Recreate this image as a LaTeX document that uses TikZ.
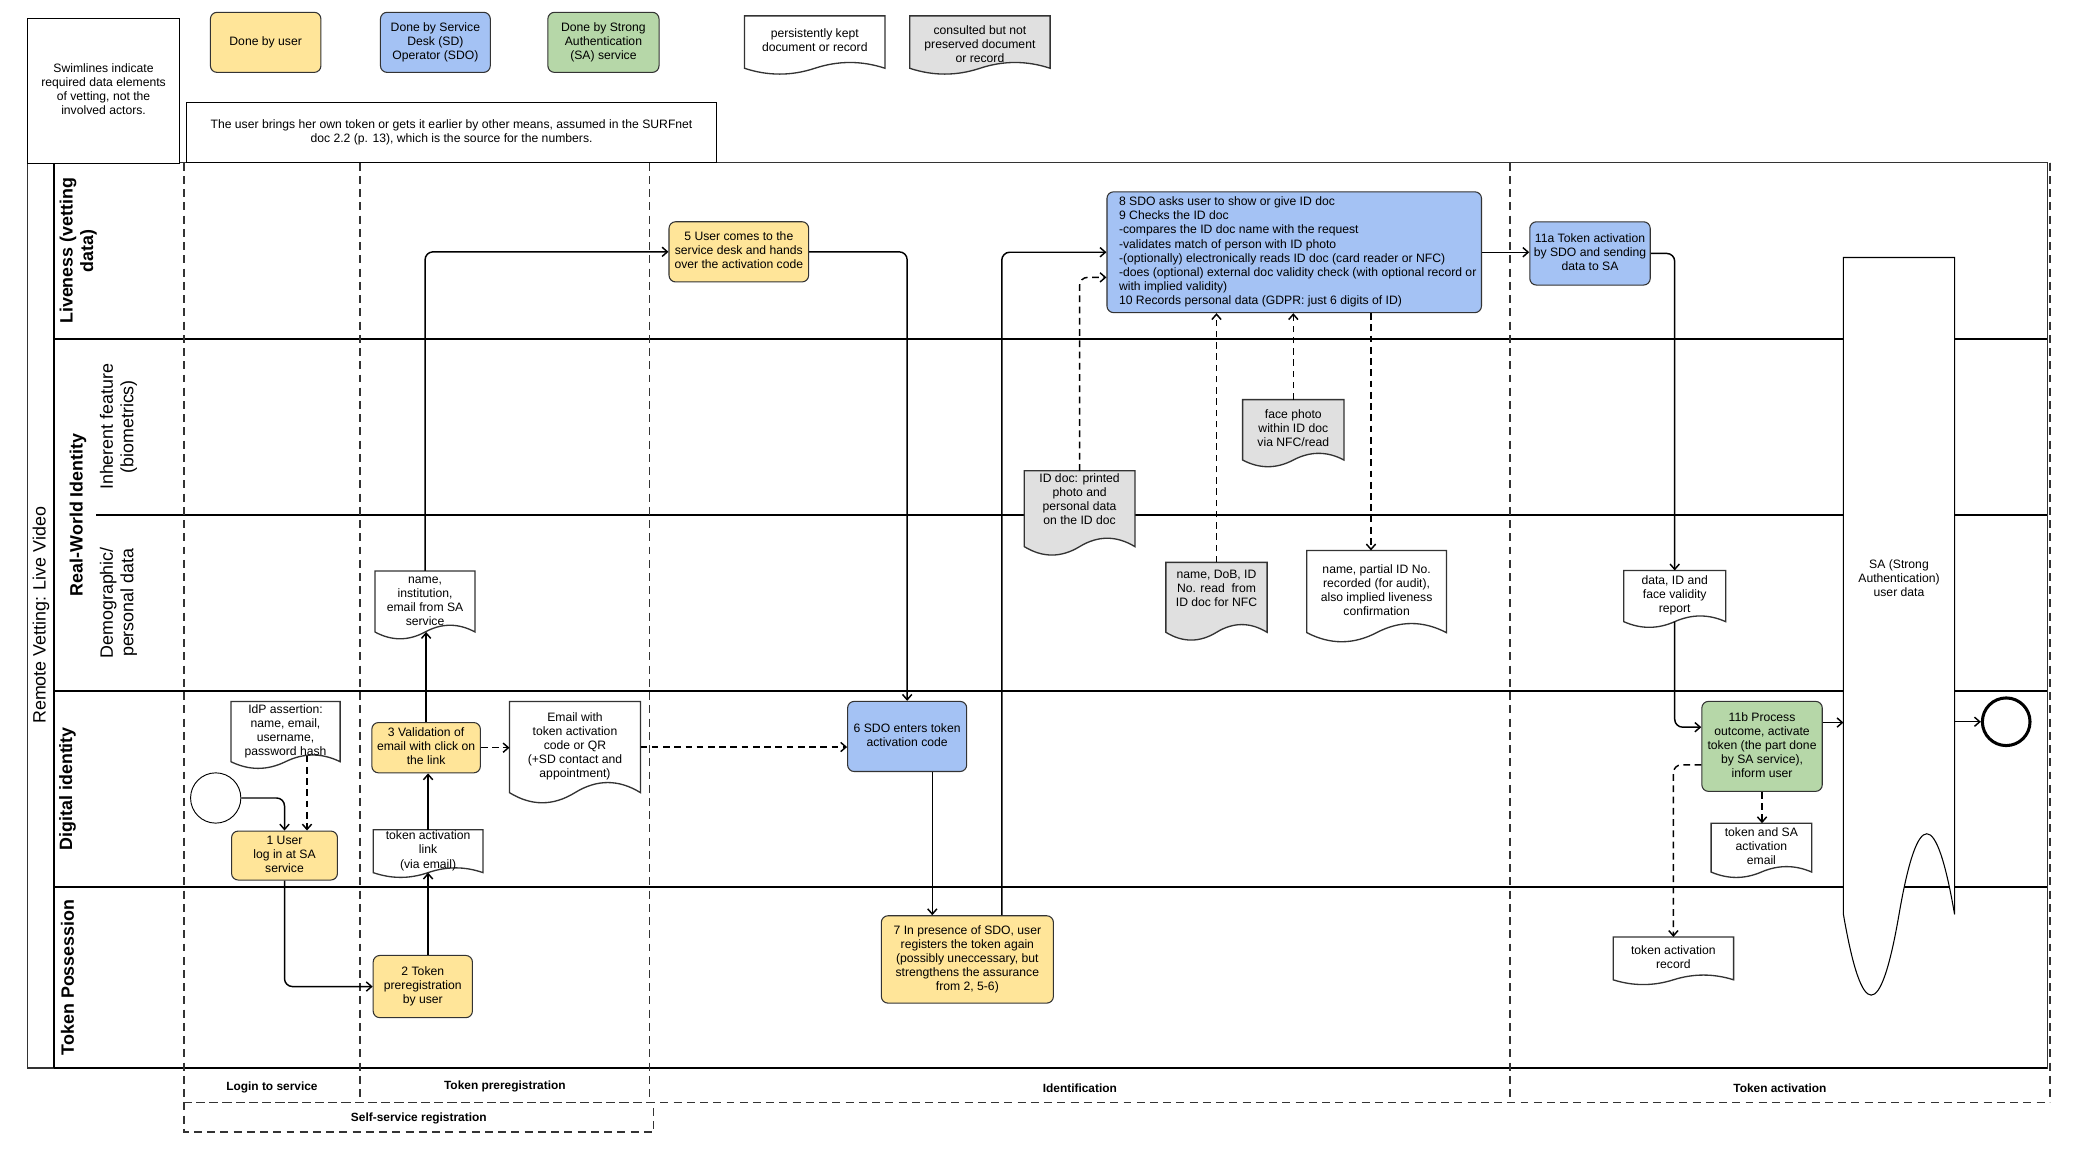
\documentclass[tikz,border=0pt]{standalone}
\usepackage{fontspec}
\setmainfont{Liberation Sans}
\usetikzlibrary{arrows.meta,calc}
\definecolor{useryellow}{HTML}{FFE599}
\definecolor{sdoblue}{HTML}{A4C2F4}
\definecolor{sagreen}{HTML}{B6D7A8}
\definecolor{docgrey}{HTML}{E0E0E0}
\definecolor{lanegrey}{HTML}{333333}
\newcommand{\lanefont}{\fontsize{13.5}{15.5}\selectfont}
\newcommand{\procnode}[6]{
	\node [draw=lanegrey, fill=#5, rounded corners=5pt, line width=0.8pt, minimum width=#3, minimum height=#4] (#1) at (#2) {};
	\node (#1txt) at (#2) {\begin{tabular}{c}#6\end{tabular}};}
\newcommand{\docnode}[7][0]{
	\begin{scope}[shift={(#3)}]
		\draw [draw=lanegrey, fill=#6, line width=1pt] ({-#4/2},{-0.45*#5}) -- ({#4/2},{-0.45*#5}) -- ({#4/2},{0.45*#5})
			.. controls ({#4/3},{0.317*#5}) and ({#4/6},{0.317*#5}) .. (0,{0.45*#5})
			.. controls ({-#4/6},{0.583*#5}) and ({-#4/3},{0.583*#5}) .. ({-#4/2},{0.45*#5}) -- cycle;
	\end{scope}
	\node [minimum width=#4, minimum height=0.9*#5, inner sep=0pt, outer sep=0pt] (#2) at (#3) {};
	\node [yshift=#1] (#2txt) at (#3) {\begin{tabular}{c}#7\end{tabular}};}

\begin{document}
\begin{tikzpicture}[x=1pt, y=-1pt, >={Straight Barb[length=4pt,width=7pt]},
	font=\fontsize{9.2}{10.6}\selectfont,
	flow/.style={->, line width=1.1pt, rounded corners=6pt},
	dataflow/.style={flow, dash pattern=on 5pt off 3.5pt},
	phase/.style={draw=lanegrey, line width=1pt, dash pattern=on 6pt off 4pt},
	lane/.style={line width=1.6pt},
	lanetitle/.style={rotate=90, font=\lanefont\bfseries},
	phasetitle/.style={font=\fontsize{9}{10.6}\selectfont\bfseries}]
	\useasboundingbox (0,0) rectangle (1568,870.5);

	% pool and lanes
	\draw [line width=1pt, draw=lanegrey] (21,123) rectangle (1547,807);
	\draw [lane] (40.5,123) -- (40.5,807);
	\draw [lane] (40.5,256) -- (1547,256);
	\draw [lane] (72.6,389) -- (1547,389);
	\draw [lane] (40.5,522) -- (1547,522);
	\draw [lane] (40.5,670) -- (1547,670);
	\draw [lane] (40.5,807) -- (1547,807);
	\node [rotate=90, font=\lanefont] (poolTitle) at (31,465) {Remote Vetting: Live Video};
	\node [lanetitle] (laneLive) at (59.5,189.5) {\begin{tabular}{c}Liveness (vetting\\data)\end{tabular}};
	\node [lanetitle] (laneReal) at (59,389) {Real-World Identity};
	\node [rotate=90, font=\lanefont] (laneInherent) at (90,322.5) {\begin{tabular}{c}Inherent feature\\(biometrics)\end{tabular}};
	\node [rotate=90, font=\lanefont] (laneDemo) at (90,455.5) {\begin{tabular}{c}Demographic/\\personal data\end{tabular}};
	\node [lanetitle] (laneDigital) at (51,596) {Digital identity};
	\node [lanetitle] (laneToken) at (51,738.5) {Token Possession};

	% phases
	\foreach \x in {139,272,491,1141,1549}
		\draw [phase] (\x,123) -- (\x,833);
	\draw [phase] (139,123) -- (1549,123);
	\draw [phase] (139,833) -- (1549,833);
	\draw [phase] (139,833) rectangle (494,855.5);
	\node [phasetitle] (phLogin) at (205.5,822) {Login to service};
	\node [phasetitle] (phPrereg) at (381.5,821) {Token preregistration};
	\node [phasetitle] (phIdent) at (816,822) {Identification};
	\node [phasetitle] (phActiv) at (1345,822) {Token activation};
	\node [phasetitle] (phSelf) at (316.5,845) {Self-service registration};

	% notes and legend
	\node [draw, fill=white, line width=0.8pt, minimum width=114.5, minimum height=109.6] (swimNote) at (78.25,68.7)
		{\begin{tabular}{c}Swimlines indicate\\required data elements\\of vetting, not the\\involved actors.\end{tabular}};
	\node [draw, fill=white, line width=0.8pt, minimum width=400.4, minimum height=45.4] (tokenNote) at (341.2,100)
		{\begin{tabular}{c}The user brings her own token or gets it earlier by other means, assumed in the SURFnet\\doc 2.2 (p. 13), which is the source for the numbers.\end{tabular}};
	\procnode{legUser}{200.75,32}{83.5}{45.4}{useryellow}{Done by user}
	\procnode{legSDO}{329,32}{83}{45.4}{sdoblue}{Done by Service\\Desk (SD)\\Operator (SDO)}
	\procnode{legSA}{456,32}{84}{45.4}{sagreen}{Done by Strong\\Authentication\\(SA) service}
	\docnode{legKept}{615.7,31.8}{106.2}{44}{white}{persistently kept\\document or record}
	\docnode[-3]{legCons}{740.5,31.8}{106.1}{44}{docgrey}{consulted but not\\preserved document\\or record}

	% steps
	\node [draw, circle, minimum size=38, inner sep=0pt, line width=0.7pt] (start) at (163,603) {};
	\procnode{n1}{215,646.5}{80}{37}{useryellow}{1 User\\log in at SA\\service}
	\procnode{n2}{319.5,745.5}{75}{47}{useryellow}{2 Token\\preregistration\\by user}
	\procnode{n3}{322,565}{82}{38}{useryellow}{3 Validation of\\email with click on\\the link}
	\procnode{n5}{558.3,190.3}{105.5}{45.5}{useryellow}{5 User comes to the\\service desk and hands\\over the activation code}
	\procnode{n6}{685.5,556.5}{90}{53}{sdoblue}{6 SDO enters token\\activation code}
	\procnode{n7}{731,725}{130}{66}{useryellow}{7 In presence of SDO, user\\registers the token again\\(possibly uneccessary, but\\strengthens the assurance\\from 2, 5-6)}
	\node [draw=lanegrey, fill=sdoblue, rounded corners=5pt, line width=0.8pt, minimum width=283, minimum height=91.3] (n8) at (978,190.6) {};
	\node [anchor=west] (n8txt) at (n8.west) {\begin{tabular}{l}8 SDO asks user to show or give ID doc\\9 Checks the ID doc\\-compares the ID doc name with the request\\-validates match of person with ID photo\\-(optionally) electronically reads ID doc (card reader or NFC)\\-does (optional) external doc validity check (with optional record or\\with implied validity)\\10 Records personal data (GDPR: just 6 digits of ID)\end{tabular}};
	\procnode{n11a}{1201.5,191.5}{91}{47.8}{sdoblue}{11a Token activation\\by SDO and sending\\data to SA}
	\procnode{n11b}{1331.5,564}{91}{68}{sagreen}{11b Process\\outcome, activate\\token (the part done\\by SA service),\\inform user}
	\node [draw, circle, minimum size=36, inner sep=0pt, line width=2.3pt] (finish) at (1516,545.4) {};

	% documents
	\docnode{dIdP}{215.75,552.8}{82.5}{50.6}{white}{IdP assertion:\\name, email,\\username,\\password hash}
	\docnode{dName}{321.2,454.5}{75.6}{51.3}{white}{name,\\institution,\\email from SA\\service}
	\docnode{dEmail}{434.5,564.5}{99}{76.6}{white}{Email with\\token activation\\code or QR\\(+SD contact and\\appointment)}
	\docnode{dLink}{323.5,643.2}{83}{36}{white}{token activation\\link\\(via email)}
	\docnode[6]{dIDdoc}{815.8,384.4}{83.6}{63.7}{docgrey}{ID doc: printed\\photo and\\personal data\\on the ID doc}
	\docnode[5.7]{dDoB}{919.25,451.4}{76.5}{58.7}{docgrey}{name, DoB, ID\\No. read~ from\\ID doc for NFC}
	\docnode{dFace}{977.3,324.8}{76.6}{50.7}{docgrey}{face photo\\within ID doc\\via NFC/read}
	\docnode{dPartial}{1040.25,447}{105.5}{69}{white}{name, partial ID No.\\recorded (for audit),\\also implied liveness\\confirmation}
	\docnode{dData}{1265.5,450.4}{77}{43}{white}{data, ID and\\face validity\\report}
	\docnode{dSAmail}{1331,640.5}{76}{41}{white}{token and SA\\activation\\email}
	\docnode{dRecord}{1264.5,724.2}{91}{36}{white}{token activation\\record}

	% SA user data store
	\node [minimum width=84, minimum height=496.4, inner sep=0pt, outer sep=0pt] (sa) at (1435,442.8) {};
	\draw [fill=white, line width=0.8pt] (sa.south west) -- (sa.north west) -- (sa.north east) -- (sa.south east)
		.. controls ($(sa.south east)+(-14,-81.3)$) and ($(sa.south)+(14,-81.3)$) .. (sa.south)
		.. controls ($(sa.south)+(-14,81.3)$) and ($(sa.south west)+(14,81.3)$) .. (sa.south west) -- cycle;
	\node (satxt) at (1435,438) {\begin{tabular}{c}SA (Strong\\Authentication)\\user data\end{tabular}};

	% connectors
	\coordinate (idpOut) at ($(n1.north |- dIdP.south)+(17,-4.5)$);
	\coordinate (n6Out) at ($(n6.south)+(19,0)$);
	\coordinate (n7Out) at ($(n7.north)+(26,0)$);
	\coordinate (n8Out) at ($(n8.south)+(58,0)$);
	\coordinate (n11bOut) at ($(n11b.east)+(0,-18)$);
	\draw [flow] (start.east) -| (n1.north);
	\draw [dataflow] (idpOut) -- (idpOut |- n1.north);
	\draw [flow] (n1.south) |- (n2.west);
	\draw [flow] (n2.north -| dLink.south) -- (dLink.south);
	\draw [flow] (dLink.north) -- (dLink.north |- n3.south);
	\draw [flow] (n3.north) -- (n3.north |- dName.south);
	\draw [flow] (dName.north) |- (n5.west);
	\draw [dataflow] (n3.east) -- (n3.east -| dEmail.west);
	\draw [dataflow] (dEmail.east) -- (dEmail.east -| n6.west);
	\draw [flow] (n5.east) -| (n6.north);
	\draw [flow] (n6Out) -- (n6Out |- n7.north);
	\draw [flow] (n7Out) |- (n8.west);
	\draw [dataflow] (dIDdoc.north) |- ($(n8.west)+(0,19)$);
	\draw [dataflow] (dDoB.north) -- (dDoB.north |- n8.south);
	\draw [dataflow] (dFace.north) -- (dFace.north |- n8.south);
	\draw [dataflow] (n8Out) -- (n8Out |- dPartial.north);
	\draw [flow] (n8.east) -- (n8.east -| n11a.west);
	\draw [flow] (n11a.east) -| (dData.north);
	\draw [flow] (dData.south) |- ($(n11b.west)+(0,-14.5)$);
	\draw [dataflow] (n11b.south) -- (n11b.south |- dSAmail.north);
	\draw [dataflow] ($(n11b.west)+(0,14)$) -| (dRecord.north);
	\draw [flow] (n11bOut) -- (n11bOut -| sa.west);
	\draw [flow] (sa.east |- finish.west) -- (finish.west);
\end{tikzpicture}
\end{document}
